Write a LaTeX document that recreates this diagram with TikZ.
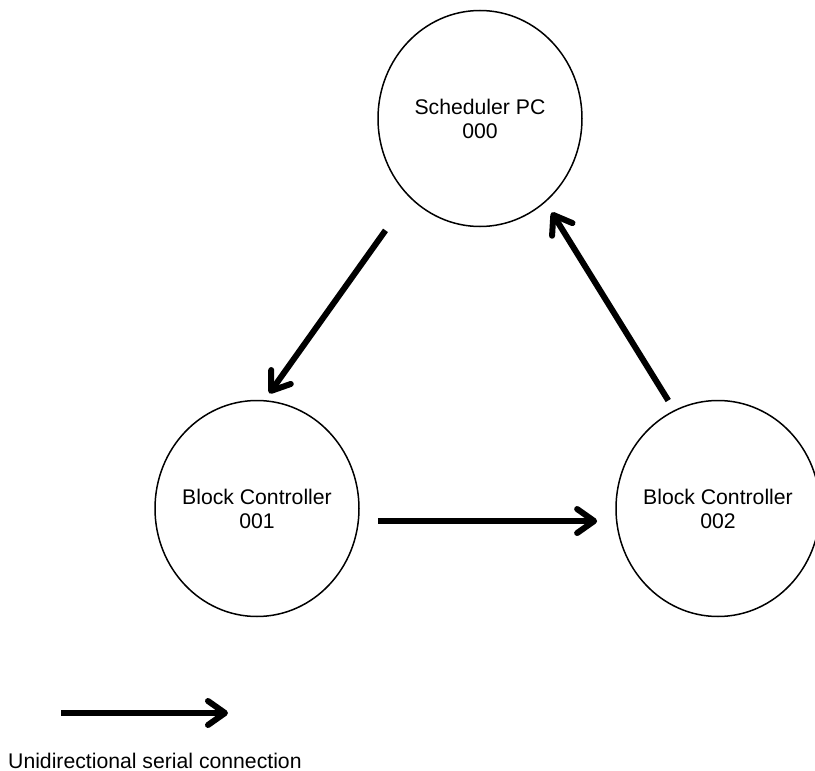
\documentclass[tikz,border=0pt]{standalone}
\usepackage{fontspec}
\setmainfont{Liberation Sans}
\usetikzlibrary{arrows.meta,shapes.geometric}
\begin{document}
\begin{tikzpicture}[x=1pt,y=-1pt,
  bubble/.style={ellipse,draw,line width=1.5pt,minimum width=204pt,minimum height=216pt,inner sep=0pt},
  caption/.style={font=\fontsize{21.2}{24}\selectfont,align=center,inner sep=0pt},
  link/.style={line width=6pt,-{Straight Barb[length=17pt,width=24pt,round]}}]
\path[use as bounding box] (0,0) rectangle (815,771);

% stations
\node[bubble] (sched) at (480,118.5) {};
\node[caption] (schedtxt) at (sched) {Scheduler PC\\000};
\node[bubble] (bc1) at (257,508.5) {};
\node[caption] (bc1txt) at (bc1) {Block Controller\\001};
\node[bubble] (bc2) at (718,508.5) {};
\node[caption] (bc2txt) at (bc2) {Block Controller\\002};

% serial links
\draw[link, shorten <=40.7pt, shorten >=8.3pt] (sched.228.3) -- (bc1.86);
\draw[link, shorten <=11.3pt, shorten >=11.9pt] (bc2.114) -- (sched.308.4);
\draw[link, shorten <=18.8pt, shorten >=18.8pt] (bc1.-7.5) -- (bc2.187.5);

% key
\coordinate (keyA) at (61,713);
\coordinate (keyB) at (228,713);
\draw[link] (keyA) -- (keyB);
\node[caption, anchor=base west] (keytxt) at (8,768) {Unidirectional serial connection};
\end{tikzpicture}
\end{document}
